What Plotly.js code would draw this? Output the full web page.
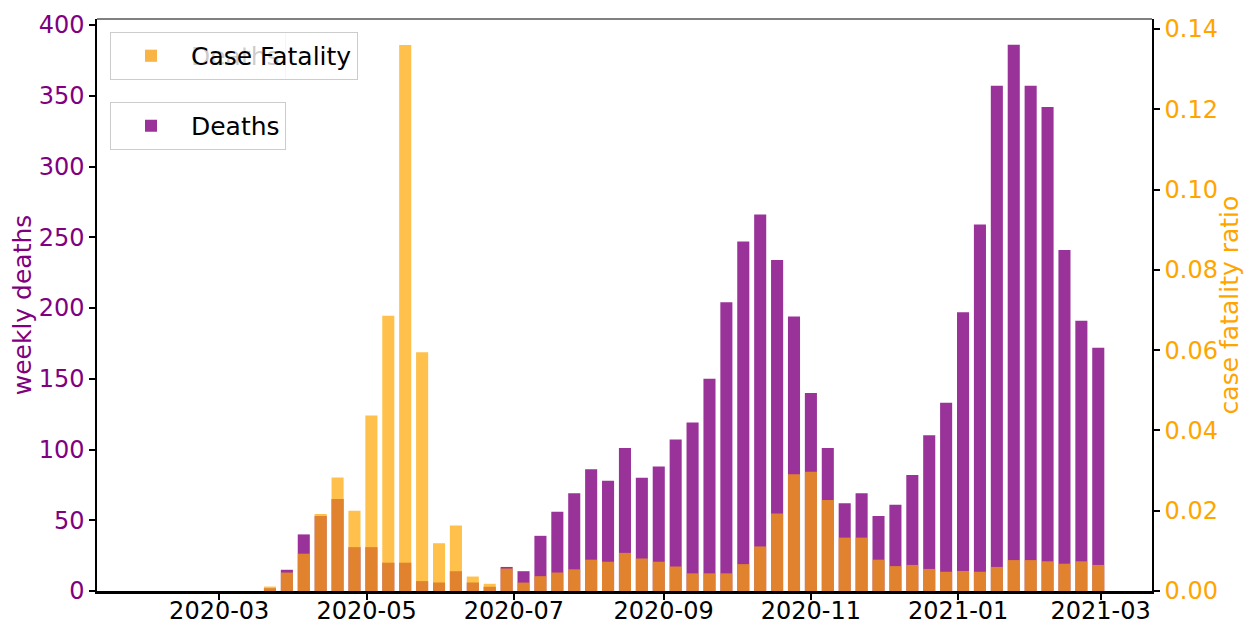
<!DOCTYPE html>
<html>
<head>
<meta charset="utf-8">
<script src="https://cdn.plot.ly/plotly-3.0.1.min.js"></script>
<style>html,body{margin:0;padding:0;background:#fff;}#chart{width:1244px;height:622px;}</style>
</head>
<body>
<div id="chart"></div>
<script>
// Weekly dates (Sundays), 2020-02-02 .. 2021-02-28
const weeks = [
  "2020-02-02","2020-02-09","2020-02-16","2020-02-23","2020-03-01","2020-03-08","2020-03-15",
  "2020-03-22","2020-03-29","2020-04-05","2020-04-12","2020-04-19","2020-04-26",
  "2020-05-03","2020-05-10","2020-05-17","2020-05-24","2020-05-31",
  "2020-06-07","2020-06-14","2020-06-21","2020-06-28",
  "2020-07-05","2020-07-12","2020-07-19","2020-07-26",
  "2020-08-02","2020-08-09","2020-08-16","2020-08-23","2020-08-30",
  "2020-09-06","2020-09-13","2020-09-20","2020-09-27",
  "2020-10-04","2020-10-11","2020-10-18","2020-10-25",
  "2020-11-01","2020-11-08","2020-11-15","2020-11-22","2020-11-29",
  "2020-12-06","2020-12-13","2020-12-20","2020-12-27",
  "2021-01-03","2021-01-10","2021-01-17","2021-01-24","2021-01-31",
  "2021-02-07","2021-02-14","2021-02-21","2021-02-28"
];
const weeklyDeaths = [
  0,0,0,0,0,0,0,
  2,15,40,53,65,31,
  31,20,20,7,6,
  14,6,3,17,
  14,39,56,69,
  86,78,101,80,88,
  107,119,150,204,
  247,266,234,194,
  140,101,62,69,53,
  61,82,110,133,
  197,259,357,386,357,
  342,241,191,172
];
const caseFatality = [
  0,0,0,0,0,0,0,
  0.0011,0.0046,0.0093,0.0192,0.0283,0.0200,
  0.0437,0.0686,0.1360,0.0595,0.0119,
  0.0163,0.0036,0.0018,0.0056,
  0.0021,0.0037,0.0046,0.0054,
  0.0078,0.0073,0.0095,0.0081,0.0073,
  0.0061,0.0044,0.0044,0.0044,
  0.0067,0.0111,0.0193,0.0291,
  0.0297,0.0227,0.0133,0.0133,0.0078,
  0.0062,0.0065,0.0055,0.0048,
  0.0050,0.0048,0.0060,0.0077,0.0077,
  0.0074,0.0068,0.0074,0.0065
];

const DAY = 86400000;
const purple = 'rgba(128,0,128,0.8)';
const orange = 'rgba(255,165,0,0.7)';

const traces = [
  {
    type: 'bar', name: 'Deaths', x: weeks, y: weeklyDeaths,
    width: 5 * DAY, marker: {color: purple, line: {width: 0}},
    yaxis: 'y', legend: 'legend3', hoverinfo: 'x+y'
  },
  {
    type: 'bar', name: 'Case Fatality', x: weeks, y: caseFatality,
    width: 5 * DAY, marker: {color: orange, line: {width: 0}},
    yaxis: 'y2', legend: 'legend2', hoverinfo: 'x+y'
  },
  {
    // first "Deaths" legend, partly hidden behind the "Case Fatality" legend (first week is 0)
    type: 'bar', name: 'Deaths', x: weeks.slice(0, 1), y: weeklyDeaths.slice(0, 1),
    width: 5 * DAY, marker: {color: purple, line: {width: 0}},
    yaxis: 'y', legend: 'legend', hoverinfo: 'skip'
  }
];

const tickFont = {family: 'DejaVu Sans', size: 24};
const legendBase = {
  x: 0.0123, xanchor: 'left', yanchor: 'top',
  bordercolor: '#cccccc', borderwidth: 1,
  font: {family: 'DejaVu Sans', size: 25, color: '#000'},
  itemwidth: 70
};

const layout = {
  width: 1244, height: 622,
  margin: {l: 97, r: 92, t: 19, b: 31, pad: 0},
  paper_bgcolor: '#fff', plot_bgcolor: '#fff',
  font: {family: 'DejaVu Sans', size: 24, color: '#000'},
  barmode: 'overlay',
  showlegend: true,
  xaxis: {
    type: 'date',
    range: ['2020-01-10 09:00', '2021-03-22 06:00'],
    tickmode: 'linear', tick0: '2020-03-01', dtick: 'M2', tickformat: '%Y-%m',
    ticks: 'outside', ticklen: 6, tickwidth: 1.5, tickcolor: '#000',
    ticklabelstandoff: -10,
    showline: true, linecolor: '#000', linewidth: 2.5,
    showgrid: false, zeroline: false,
    tickfont: Object.assign({color: '#000'}, tickFont)
  },
  yaxis: {
    range: [0, 404.25], tickmode: 'linear', tick0: 0, dtick: 50,
    ticks: 'outside', ticklen: 6, tickwidth: 1.5, tickcolor: '#000',
    showline: true, linecolor: '#000', linewidth: 1.5,
    showgrid: false, zeroline: false,
    tickfont: Object.assign({color: '#800080'}, tickFont),
    title: {text: 'weekly deaths', font: {family: 'DejaVu Sans', size: 25, color: '#800080'}, standoff: 0}
  },
  yaxis2: {
    overlaying: 'y', side: 'right',
    range: [0, 0.1425], tickmode: 'linear', tick0: 0, dtick: 0.02, tickformat: '.2f',
    ticks: 'outside', ticklen: 6, tickwidth: 1.5, tickcolor: '#000',
    showline: true, linecolor: '#000', linewidth: 1.5,
    showgrid: false, zeroline: false,
    tickfont: Object.assign({color: '#FFA500'}, tickFont),
    title: {text: 'case fatality ratio', font: {family: 'DejaVu Sans', size: 25, color: '#FFA500'}, standoff: 8}
  },
  legend: Object.assign({}, legendBase, {y: 0.9773, bgcolor: '#ffffff'}),
  legend2: Object.assign({}, legendBase, {y: 0.9773, bgcolor: 'rgba(255,255,255,0.8)'}),
  legend3: Object.assign({}, legendBase, {y: 0.8549, bgcolor: 'rgba(255,255,255,0.8)'}),
  shapes: [
    {type: 'line', xref: 'paper', yref: 'paper', x0: 0, x1: 1, y0: 1, y1: 1,
     line: {color: '#000', width: 1}}
  ]
};

Plotly.newPlot('chart', traces, layout, {displayModeBar: false, responsive: false});
</script>
</body>
</html>
